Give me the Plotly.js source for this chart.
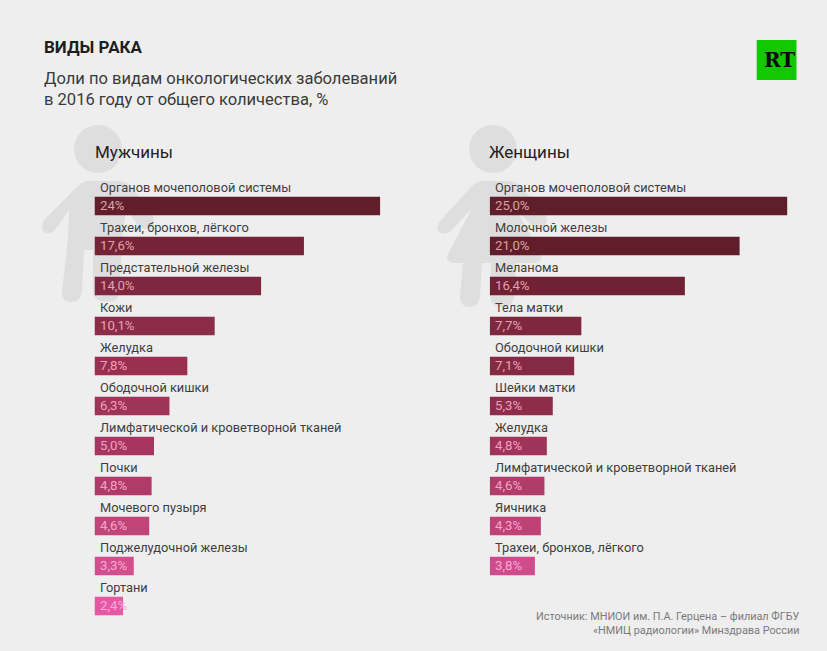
<!DOCTYPE html>
<html><head><meta charset="utf-8">
<script src="https://cdn.plot.ly/plotly-3.0.1.min.js"></script>
<style>html,body{margin:0;padding:0;background:#EFEEEF}</style></head>
<body><div id="chart" style="width:827px;height:651px"></div>
<script>
const menCategories = ["Органов мочеполовой системы","Трахеи, бронхов, лёгкого","Предстательной железы","Кожи","Желудка","Ободочной кишки","Лимфатической и кроветворной тканей","Почки","Мочевого пузыря","Поджелудочной железы","Гортани"];
const menValues = [24,17.6,14.0,10.1,7.8,6.3,5.0,4.8,4.6,3.3,2.4];
const menLabels = ["24%","17,6%","14,0%","10,1%","7,8%","6,3%","5,0%","4,8%","4,6%","3,3%","2,4%"];
const menColors = ["#601F2A","#752438","#7D2840","#8B2C48","#9A2F52","#A03358","#A63660","#B03B69","#C04478","#D24E8E","#E458A4"];
const womenCategories = ["Органов мочеполовой системы","Молочной железы","Меланома","Тела матки","Ободочной кишки","Шейки матки","Желудка","Лимфатической и кроветворной тканей","Яичника","Трахеи, бронхов, лёгкого"];
const womenValues = [25.0,21.0,16.4,7.7,7.1,5.3,4.8,4.6,4.3,3.8];
const womenLabels = ["25,0%","21,0%","16,4%","7,7%","7,1%","5,3%","4,8%","4,6%","4,3%","3,8%"];
const womenColors = ["#5E1F2A","#601E2A","#702234","#7D283F","#852A45","#8E2C4C","#A0335A","#B03C6A","#BE4276","#CF4C8C"];
const menValueText = ["#DDA0A6","#E2A0AA","#E6A0AE","#EAA0B2","#EEA0B8","#F0A0BC","#F4A0C2","#F6A2C8","#F8A4CE","#FAA8D2","#FCAAD8"];
const womenValueText = ["#DDA0A6","#DDA0A6","#E2A0AA","#E6A0AE","#EAA0B2","#EEA0B8","#F4A0C2","#F6A2C8","#F8A4CE","#FAA8D2"];

const W = 827, H = 651, FONT = "Roboto, sans-serif";
const PXPER = 11.9, ROW = 40, FIRST = 206;
const mx0 = 94.5, mx1 = 430, wx0 = 489.7, wx1 = 820;
const yRange = [(H - FIRST) / ROW, -FIRST / ROW];

const bar = (cats, vals, cols, xa, ya) => ({
  type: "bar", orientation: "h", y: cats, x: vals, xaxis: xa, yaxis: ya, width: 0.4675,
  marker: {color: cols, line: {width: 0}}, hoverinfo: "skip"
});
const data = [
  bar(menCategories, menValues, menColors, "x", "y"),
  bar(womenCategories, womenValues, womenColors, "x2", "y2")
];

const ann = [];
function rowText(cats, labels, txtCols, xa, ya) {
  cats.forEach((c, i) => {
    ann.push({xref: xa, yref: ya, x: 0, y: c, xshift: 3.5, yshift: 19, xanchor: "left", yanchor: "middle",
      text: c, showarrow: false, font: {family: FONT, size: 12.8, color: "#3E3E3E"}});
    ann.push({xref: xa, yref: ya, x: 0, y: c, xshift: 3.5, yshift: 1, xanchor: "left", yanchor: "middle",
      text: labels[i], showarrow: false, font: {family: FONT, size: 13.2, color: txtCols[i]}});
  });
}
rowText(menCategories, menLabels, menValueText, "x", "y");
rowText(womenCategories, womenLabels, womenValueText, "x2", "y2");
function note(text, px, py, size, color, anchor, bold, family) {
  ann.push({xref: "paper", yref: "paper", x: px / W, y: 1 - py / H, xanchor: anchor || "left", yanchor: "middle",
    text: bold ? "<b>" + text + "</b>" : text, showarrow: false, font: {family: family || FONT, size, color}});
}
note("ВИДЫ РАКА", 41.5, 47, 17, "#1E1E1E", "left", true);
note("Доли по видам онкологических заболеваний", 41.5, 78, 16.55, "#3A3A3A");
note("в 2016 году от общего количества, %", 41.5, 99, 16.55, "#3A3A3A");
note("Мужчины", 92.5, 152, 17, "#222222");
note("Женщины", 486.5, 152, 17, "#222222");
note("Источник: МНИОИ им. П.А. Герцена – филиал ФГБУ", 800.5, 616, 10.85, "#7A7A7A", "right");
note("«НМИЦ радиологии» Минздрава России", 800.5, 630, 10.85, "#7A7A7A", "right");
note("RT", 779, 60, 20, "#0A0A0A", "center", true, "'DejaVu Serif', serif");

const toPaper = s => s.replace(/(-?[\d.]+)[ ,](-?[\d.]+)/g, (m, a, b) => (a / W).toFixed(5) + "," + (1 - b / H).toFixed(5));
const SIL = "#DFDEDF";
const sil = p => ({type: "path", xref: "paper", yref: "paper", path: toPaper(p), fillcolor: SIL, line: {width: 0}, layer: "below"});
const circle = (cx, cy, r) => ({type: "circle", xref: "paper", yref: "paper", x0: (cx - r) / W, x1: (cx + r) / W,
  y0: 1 - (cy + r) / H, y1: 1 - (cy - r) / H, fillcolor: SIL, line: {width: 0}, layer: "below"});

const manBody = "M88 181 L118 181 Q126 181 132 187 L152 214 Q156 222 150 227 Q144 231 139 226 L126 210 L122 240 L120 291 Q119 302 107 302 Q94 302 93 291 L93 250 L84 250 L82 291 Q81 302 71 302 Q61 302 62 291 L68 238 L69 210 L55 230 Q49 236 43 231 Q40 226 45 219 L77 187 Q82 181 88 181 Z";
const womanBody = "M483 181 L507 181 Q515 181 521 187 L545 214 Q549 222 543 227 Q537 231 532 226 L515 208 L541 253 Q543 262 535 263 L516 263 L514 296 Q513 307 502 307 Q491 307 490 296 L491 263 L482 263 L480 296 Q479 307 470 307 Q460 307 460 296 L463 263 L453 263 Q445 262 448 254 L472 208 L451 231 Q445 236 439 232 Q435 227 440 221 L471 187 Q476 181 483 181 Z";

const layout = {
  width: W, height: H, autosize: false, showlegend: false,
  margin: {l: 0, r: 0, t: 0, b: 0, pad: 0},
  paper_bgcolor: "#EFEEEF", plot_bgcolor: "rgba(0,0,0,0)",
  xaxis: {domain: [mx0 / W, mx1 / W], range: [0, (mx1 - mx0) / PXPER], visible: false, fixedrange: true},
  xaxis2: {domain: [wx0 / W, wx1 / W], range: [0, (wx1 - wx0) / PXPER], visible: false, fixedrange: true, anchor: "y2"},
  yaxis: {domain: [0, 1], type: "category", categoryorder: "array", categoryarray: menCategories, range: yRange, visible: false, fixedrange: true},
  yaxis2: {domain: [0, 1], type: "category", categoryorder: "array", categoryarray: womenCategories, range: yRange, visible: false, fixedrange: true, anchor: "x2"},
  annotations: ann,
  shapes: [
    circle(98, 149, 24), sil(manBody),
    circle(493, 149, 24), sil(womanBody),
    {type: "rect", xref: "paper", yref: "paper", x0: 756.7 / W, x1: 796.5 / W, y0: 1 - 80 / H, y1: 1 - 40 / H, fillcolor: "#14C800", line: {width: 0}, layer: "below"}
  ]
};
Plotly.newPlot("chart", data, layout, {displayModeBar: false, staticPlot: true});
</script></body></html>
